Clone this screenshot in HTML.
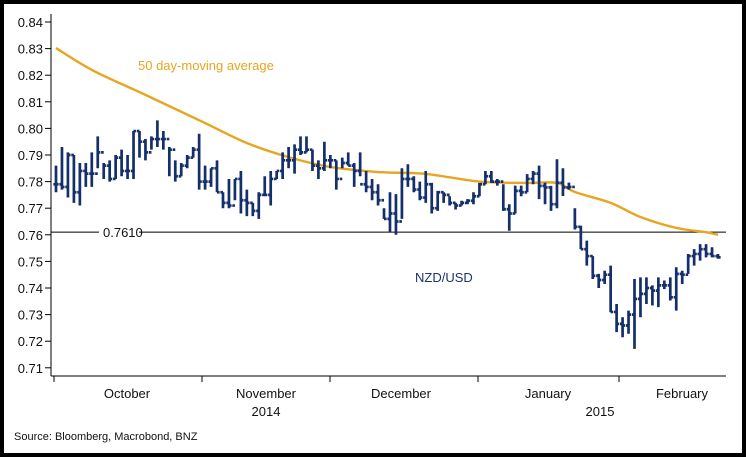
<!DOCTYPE html>
<html><head><meta charset="utf-8"><style>
body{margin:0;background:#fff}
#wrap{position:relative;width:738px;height:449px;border:4px solid #000;overflow:hidden}
svg{position:absolute;left:-4px;top:-4px}
text{font-family:"Liberation Sans",sans-serif}
</style></head><body>
<div id="wrap">
<svg id="chart" width="746" height="457"></svg>
</div>
<script>
const highs=[.786,.793,.791,.790,.787,.787,.791,.797,.787,.788,.790,.792,.790,.799,.799,.796,.797,.803,.799,.793,.788,.787,.790,.793,.798,.786,.785,.788,.776,.781,.781,.784,.777,.772,.776,.782,.784,.784,.791,.793,.794,.797,.797,.792,.788,.795,.790,.788,.789,.791,.787,.791,.784,.781,.779,.770,.776,.7753,.785,.7865,.782,.780,.784,.7795,.7765,.776,.7745,.772,.7728,.7734,.776,.7795,.784,.784,.781,.779,.7715,.7785,.7785,.7828,.784,.786,.7796,.7784,.7884,.785,.7796,.770,.7634,.7578,.752,.7453,.7465,.7484,.734,.729,.7315,.7434,.744,.744,.741,.744,.7428,.744,.7478,.7465,.7528,.7546,.7565,.7565,.7553,.7528];
const lows=[.776,.777,.774,.772,.771,.778,.778,.785,.781,.780,.781,.782,.781,.781,.789,.788,.792,.793,.792,.782,.780,.782,.785,.789,.777,.777,.778,.776,.770,.770,.773,.768,.767,.767,.766,.775,.771,.781,.781,.785,.783,.790,.791,.784,.781,.784,.785,.777,.785,.786,.778,.782,.776,.773,.771,.766,.761,.760,.766,.778,.776,.773,.772,.768,.769,.772,.771,.7695,.771,.7715,.7715,.7745,.779,.7795,.7785,.769,.7615,.768,.7745,.776,.779,.7734,.7715,.769,.770,.7746,.777,.762,.7546,.7484,.7434,.740,.7415,.7309,.7234,.7215,.7228,.7171,.729,.734,.7334,.7328,.7396,.7353,.7315,.7415,.7453,.7484,.7503,.7515,.7515,.751];
const closes=[.779,.778,.790,.776,.784,.783,.783,.791,.786,.781,.789,.784,.784,.799,.795,.791,.796,.796,.796,.792,.782,.786,.789,.792,.780,.780,.785,.776,.772,.771,.781,.773,.772,.769,.775,.775,.781,.784,.788,.788,.792,.791,.792,.786,.785,.788,.788,.781,.787,.786,.784,.779,.778,.776,.773,.766,.768,.765,.781,.781,.777,.774,.779,.770,.776,.775,.772,.771,.772,.7728,.7745,.779,.782,.780,.780,.7696,.768,.7765,.776,.781,.783,.7784,.7778,.7715,.7796,.7778,.778,.763,.7546,.752,.7446,.743,.745,.731,.7265,.7259,.730,.7359,.7378,.740,.739,.741,.741,.7365,.7453,.745,.752,.7528,.7546,.7528,.752,.7515];
const maIdx=[0,6,15,25,32,39,46,54,62,71,79,84,87,93,98,104,109,111];
const maVal=[.8302,.822,.8126,.802,.7945,.7892,.7855,.7836,.7829,.780,.7795,.7795,.7761,.772,.7667,.7626,.761,.760];
const yTicks=[0.84,0.83,0.82,0.81,0.80,0.79,0.78,0.77,0.76,0.75,0.74,0.73,0.72,0.71];
const refLevel=0.761;
const months=["October","November","December","January","February"];

const NS="http://www.w3.org/2000/svg",svg=document.getElementById('chart');
function mk(t,a,p){const e=document.createElementNS(NS,t);for(const k in a)e.setAttribute(k,a[k]);(p||svg).appendChild(e);return e;}
const y=v=>22+(0.84-v)/0.01*26.6;
const x=i=>56+i*(718-56)/(closes.length-1);
let e=mk('line',{x1:51,y1:14,x2:51,y2:376,stroke:'#000','stroke-width':1});

e=mk('line',{x1:51,y1:376,x2:726,y2:376,stroke:'#000','stroke-width':1});

yTicks.forEach(v=>{
  mk('line',{x1:45,x2:51,y1:y(v),y2:y(v),stroke:'#000'});
  const t=mk('text',{x:43,y:y(v)+5,'text-anchor':'end','font-size':13,fill:'#111'});
  t.textContent=v.toFixed(2);
  
});
[54,202,330,478,619].forEach(px=>mk('line',{x1:px,x2:px,y1:376,y2:382,stroke:'#000'}));
const mx=[127,266,401,548,682];
months.forEach((m,i)=>{const t=mk('text',{x:mx[i],y:398,'text-anchor':'middle','font-size':13,fill:'#111'});t.textContent=m;
});
[[266,'2014'],[600,'2015']].forEach(a=>{const t=mk('text',{x:a[0],y:416,'text-anchor':'middle','font-size':13,fill:'#111'});t.textContent=a[1];
});
e=mk('line',{x1:51,x2:726,y1:y(refLevel),y2:y(refLevel),stroke:'#000','stroke-width':1});

mk('rect',{x:99,y:y(refLevel)-7,width:40,height:14,fill:'#fff'});
e=mk('text',{x:103,y:y(refLevel)+5,'font-size':13,fill:'#111'});e.textContent=refLevel.toFixed(4);

// MA smoothed (Catmull-Rom)
const P=maIdx.map((k,j)=>[x(k),y(maVal[j])]);
let d='M'+P[0][0]+','+P[0][1];
for(let j=0;j<P.length-1;j++){
  const p0=P[Math.max(j-1,0)],p1=P[j],p2=P[j+1],p3=P[Math.min(j+2,P.length-1)];
  const c1=[p1[0]+(p2[0]-p0[0])/6,p1[1]+(p2[1]-p0[1])/6],c2=[p2[0]-(p3[0]-p1[0])/6,p2[1]-(p3[1]-p1[1])/6];
  d+=`C${c1[0]},${c1[1]} ${c2[0]},${c2[1]} ${p2[0]},${p2[1]}`;
}
e=mk('path',{d:d,fill:'none',stroke:'#e8a520','stroke-width':2.4});

const g=mk('g',{stroke:'#142f6b','stroke-width':2.7});

closes.forEach((c,i)=>{
  const xi=x(i),o=i?closes[i-1]:c;
  const p=mk('path',{d:`M${xi},${y(highs[i])}V${y(lows[i])}M${xi-2.6},${y(o)}H${xi}M${xi},${y(c)}H${xi+2.6}`,fill:'none'},g);
  
  
});
e=mk('text',{x:138,y:70,'font-size':13,fill:'#e8a520'});e.textContent='50 day-moving average';

e=mk('text',{x:415,y:282,'font-size':13,fill:'#1a3370'});e.textContent='NZD/USD';

e=mk('text',{x:14,y:440,'font-size':11,fill:'#111'});e.textContent='Source: Bloomberg, Macrobond, BNZ';

</script>
</body></html>
